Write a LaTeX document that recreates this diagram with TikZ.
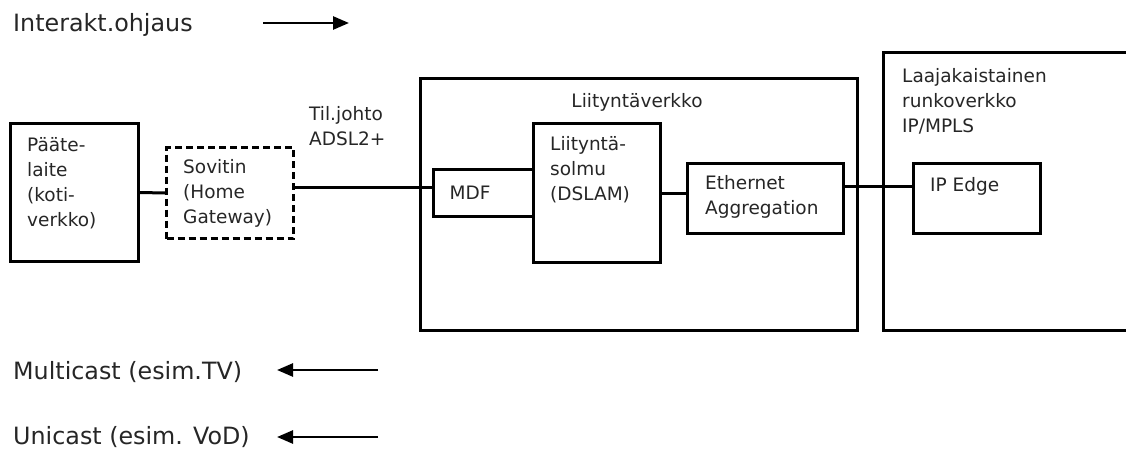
\documentclass[tikz,border=0pt]{standalone}
\usepackage{fontspec}
\setmainfont{DejaVu Sans}
\usetikzlibrary{arrows.meta}
\begin{document}
\begin{tikzpicture}[x=1pt,y=-1pt,
  box/.style={draw,line width=3pt,inner sep=0pt,anchor=north west},
  dbox/.style={box,dash pattern=on 7pt off 4pt},
  txt/.style={font=\fontsize{18.5}{25}\selectfont,inner sep=0pt,align=left,text=black!85},
  big/.style={font=\fontsize{23.8}{28}\selectfont,inner sep=0pt,anchor=west,text=black!85},
  conn/.style={line width=3pt},
  arr/.style={line width=2.6pt,-{Triangle[length=16pt,width=13pt]}}]
\useasboundingbox (0,0) rectangle (1126,452);
% boxes
\node[box,minimum width=128pt,minimum height=138pt] (pa) at (9,122) {};
\node[txt,anchor=north west] (pat) at (27,137) {Pääte-\\laite\\(koti-\\verkko)};
\node[dbox,minimum width=127pt,minimum height=91pt] (sov) at (165,146) {};
\node[txt,anchor=north west] (sovt) at (183,159) {Sovitin\\(Home\\Gateway)};
\node[txt,anchor=north west] (til) at (309,106) {Til.johto\\ADSL2+};
\node[box,minimum width=437pt,minimum height=252pt] (lv) at (419,77) {};
\node[txt] (lvt) at (637,102) {Liityntäverkko};
\node[box,minimum width=100pt,minimum height=47pt] (mdf) at (432,168) {};
\node[txt] (mdft) at (470,193) {MDF};
\node[box,minimum width=127pt,minimum height=139pt] (dslam) at (532,122) {};
\node[txt,anchor=north west] (dslamt) at (550,136) {Liityntä-\\solmu\\(DSLAM)};
\node[box,minimum width=156pt,minimum height=70pt] (eth) at (686,162) {};
\node[txt,anchor=north west] (etht) at (705,175) {Ethernet\\Aggregation};
\draw[line width=3pt] (1130,53) -- (883,53) -- (883,330) -- (1130,330);
\node[txt,anchor=north west] (rkt) at (902,68) {Laajakaistainen\\runkoverkko\\IP/MPLS};
\node[box,minimum width=127pt,minimum height=70pt] (ip) at (912,162) {};
\node[txt,anchor=west] (ipt) at (930,186) {IP Edge};
% connectors
\draw[conn] (pa.east) -- (sov.west);
\draw[conn] ([yshift=6pt]sov.east) -- ([yshift=6pt]sov.east -| mdf.west);
\draw[conn] (dslam.east) -- (dslam.east -| eth.west);
\draw[conn] ([yshift=12pt]eth.east) -- ([yshift=12pt]ip.west);
% legend
\node[big] (ia) at (13,25) {Interakt.ohjaus};
\coordinate (ia1) at (263,23);
\coordinate (ia2) at (349,23);
\draw[arr] (ia1) -- (ia2);
\node[big] (mc) at (13,372) {Multicast (esim.TV)};
\coordinate (mc1) at (378,370);
\coordinate (mc2) at (277,370);
\draw[arr] (mc1) -- (mc2);
\node[big] (uc) at (13,437) {Unicast (esim. VoD)};
\coordinate (uc1) at (378,437);
\coordinate (uc2) at (277,437);
\draw[arr] (uc1) -- (uc2);
\end{tikzpicture}
\end{document}
